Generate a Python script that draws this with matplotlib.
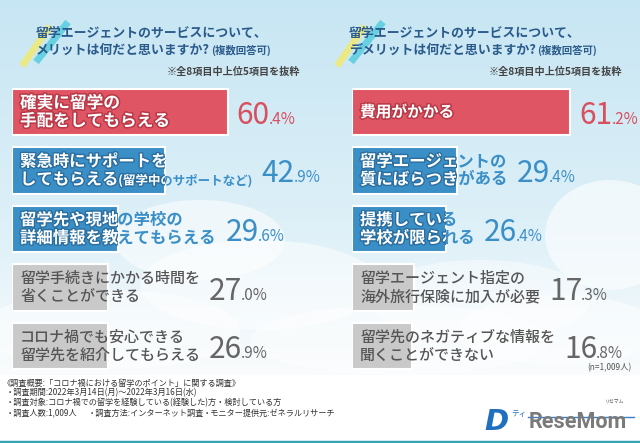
import matplotlib
matplotlib.use("Agg")
import matplotlib.pyplot as plt
import matplotlib.patheffects as pe
from matplotlib.patches import Ellipse
import numpy as np

plt.rcParams['font.family'] = ['Noto Sans CJK JP', 'DejaVu Sans']
NUM_FONT = ['Noto Sans CJK JP', 'DejaVu Sans']

# data
merit_labels = ["確実に留学の\n手配をしてもらえる",
                "緊急時にサポートを\nしてもらえる",
                "留学先や現地の学校の\n詳細情報を教えてもらえる",
                "留学手続きにかかる時間を\n省くことができる",
                "コロナ禍でも安心できる\n留学先を紹介してもらえる"]
merit_notes = ["", "(留学中のサポートなど)", "", "", ""]
merit_values = [60.4, 42.9, 29.6, 27.0, 26.9]

demerit_labels = ["費用がかかる",
                  "留学エージェントの\n質にばらつきがある",
                  "提携している\n学校が限られる",
                  "留学エージェント指定の\n海外旅行保険に加入が必要",
                  "留学先のネガティブな情報を\n聞くことができない"]
demerit_notes = ["", "", "", "", ""]
demerit_values = [61.2, 29.4, 26.4, 17.3, 16.8]

titles = [("留学エージェントのサービスについて、", "メリットは何だと思いますか?"),
          ("留学エージェントのサービスについて、", "デメリットは何だと思いますか?")]
title_note = "(複数回答可)"
sub_note = "※全8項目中上位5項目を抜粋"
n_note = "(n=1,009人)"
footer = ["《調査概要:「コロナ禍における留学のポイント」に関する調査》",
          "・調査期間:2022年3月14日(月)～2022年3月16日(水)",
          "・調査対象:コロナ禍での留学を経験している(経験した)方・検討している方"]
footer_last = ["・調査人数:1,009人", "・調査方法:インターネット調査", "・モニター提供元:ゼネラルリサーチ"]

RED = '#e05563'
BLUE = '#3b8fc7'
GRAY = '#c9c9c9'
rank_colors = [RED, BLUE, BLUE, GRAY, GRAY]
rank_text = ['white', BLUE, BLUE, '#555555', '#555555']
value_colors = ['#d84f5e', '#3b8fc7', '#3b8fc7', '#666666', '#666666']
dark_edge = ['#b83a48', '#2a6e9f', '#2a6e9f', None, None]
TITLE_C = '#2b5b8b'

fig = plt.figure(figsize=(6.4, 4.43), dpi=100)

# background in pixel coords
bg = fig.add_axes([0, 0, 1, 1], zorder=0)
bg.set_xlim(0, 640)
bg.set_ylim(443, 0)
bg.axis('off')
yy = np.linspace(0, 443, 443)
top = np.array([199, 230, 243]) / 255
mid = np.array([222, 240, 248]) / 255
low = np.array([250, 252, 253]) / 255
grad = np.zeros((443, 1, 3))
for k, y in enumerate(yy):
    if y < 230:
        f = y / 230
        c = top * (1 - f) + mid * f
    elif y < 375:
        f = (y - 230) / 145
        c = mid * (1 - f) + low * f
    else:
        c = np.array([1.0, 1.0, 1.0])
    grad[k, 0] = c
bg.imshow(grad, extent=[0, 640, 443, 0], aspect='auto')
for (cx, cy, w, h, a) in [(200, 240, 170, 80, 0.55), (260, 285, 240, 90, 0.5),
                          (610, 235, 130, 110, 0.6), (480, 300, 220, 80, 0.45),
                          (110, 330, 260, 80, 0.45), (400, 340, 300, 70, 0.45),
                          (560, 330, 200, 70, 0.5)]:
    bg.add_patch(Ellipse((cx, cy), w, h, color='white', alpha=a, lw=0))
bg.plot([0, 640], [441.5, 441.5], color='#3aa3b3', lw=2.5)

# title decoration strokes and titles
for x0 in [22, 337]:
    bg.plot([x0, x0 + 28], [66, 26], color='#eeea7a', lw=5, alpha=0.9, solid_capstyle='butt')
    bg.plot([x0 + 14, x0 + 46], [62, 22], color='#5ccfe0', lw=5, alpha=0.9, solid_capstyle='butt')
for x0, (l1, l2) in zip([36, 349], titles):
    bg.text(x0, 33, l1, fontsize=9.3, fontweight='bold', color=TITLE_C, va='center', ha='left')
    t2 = bg.text(x0, 50, l2, fontsize=9.3, fontweight='bold', color=TITLE_C, va='center', ha='left')
    bg.annotate(title_note, xy=(1, 0.5), xycoords=t2, xytext=(1, 0), textcoords='offset pixels',
                fontsize=7.5, fontweight='bold', color=TITLE_C, va='center', ha='left')
for x1 in [300, 622]:
    bg.text(x1, 72, sub_note, fontsize=7.3, fontweight='bold', color='#444444', ha='right', va='center')

bg.text(632, 368, n_note, fontsize=6, color='#555555', ha='right', va='center')
for k, line in enumerate(footer):
    bg.text(3 if k == 0 else 6, 383 + 10 * k, line, fontsize=5.9, color='#333333', ha='left', va='center')
for x0, line in zip([6, 88, 203], footer_last):
    bg.text(x0, 413, line, fontsize=5.9, color='#333333', ha='left', va='center')

# logo
bg.plot([528, 634], [417, 417], color='#3b7fc7', lw=1, zorder=1)
bg.text(484, 430, "D", fontsize=21, fontweight='bold', style='italic', color='#1f6fc0',
        family=['DejaVu Sans'], ha='left', va='baseline')
bg.text(511, 414, "ティ", fontsize=5.5, color='#1f6fc0', ha='left', va='center')
bg.text(529, 428, "ReseMom", fontsize=15.5, fontweight='bold', color='#7a7a7a',
        family=['Roboto', 'DejaVu Sans'], ha='left', va='baseline', zorder=2)
bg.text(615, 401, "リセマム", fontsize=3.5, color='#555555', ha='center', va='center')


def panel(left_px, width_px, labels, notes, values, first_size):
    ax = fig.add_axes([left_px / 640, 1 - 375.25 / 443, width_px / 640, 292.5 / 443], zorder=2)
    ax.set_xlim(0, width_px / 3.57)
    ax.set_ylim(4.5, -0.5)
    ax.axis('off')
    ax.patch.set_alpha(0)
    bars = ax.barh(range(len(values)), values, height=0.79, color=rank_colors,
                   edgecolor='white', linewidth=1.5, zorder=2)
    extents = []
    for i, (lab, note, bar) in enumerate(zip(labels, notes, bars.patches)):
        parts = lab.split("\n")
        offs = [9, -9] if len(parts) == 2 else [0]
        colored = i < 3
        fs = first_size if i == 0 else (11.8 if colored else 10.8)
        group = []
        for clip in ([False, True] if colored else [False]):
            col = 'white' if clip else rank_text[i]
            effects = [pe.withStroke(linewidth=2, foreground=dark_edge[i])] if (clip or i == 0) else None
            last = None
            for txt, dy in zip(parts, offs):
                t = ax.annotate(txt, xy=(0, i), xytext=(8, dy), textcoords='offset pixels',
                                va='center', ha='left', fontsize=fs, color=col,
                                fontweight='bold' if colored else 'medium',
                                annotation_clip=False, zorder=3, path_effects=effects)
                if clip:
                    t.set_clip_path(bar)
                    t.set_clip_on(True)
                group.append(t)
                last = t
            if note:
                t = ax.annotate(note, xy=(1, 0), xycoords=last, xytext=(0, 1),
                                textcoords='offset pixels', va='bottom', ha='left',
                                fontsize=9, color=col, fontweight='bold',
                                annotation_clip=False, zorder=3, path_effects=effects)
                if clip:
                    t.set_clip_path(bar)
                    t.set_clip_on(True)
                group.append(t)
        extents.append(group)
    return ax, bars, extents


panels = [panel(12, 300, merit_labels, merit_notes, merit_values, 12),
          panel(352, 285, demerit_labels, demerit_notes, demerit_values, 11.3)]

fig.canvas.draw()
renderer = fig.canvas.get_renderer()
for (ax, bars, extents), values in zip(panels, [merit_values, demerit_values]):
    for i, (v, group) in enumerate(zip(values, extents)):
        text_end = max(t.get_window_extent(renderer).x1 for t in group)
        bar_end = ax.transData.transform((v, i))[0]
        x_disp = max(text_end, bar_end) + 9
        xd = ax.transData.inverted().transform((x_disp, 0))[0]
        s = f"{v:.1f}"
        whole, dec = s.split(".")
        big = ax.annotate(whole, xy=(xd, i), xytext=(0, -12), textcoords='offset pixels',
                          va='baseline', ha='left', fontsize=21.5, color=value_colors[i],
                          family=NUM_FONT, annotation_clip=False, zorder=3)
        ax.annotate("." + dec + "%", xy=(1, i), xycoords=(big, 'data'), xytext=(-1, -12),
                    textcoords='offset pixels', va='baseline', ha='left', fontsize=11,
                    color=value_colors[i], family=NUM_FONT, annotation_clip=False, zorder=3)

fig.savefig("out.png", dpi=100)
